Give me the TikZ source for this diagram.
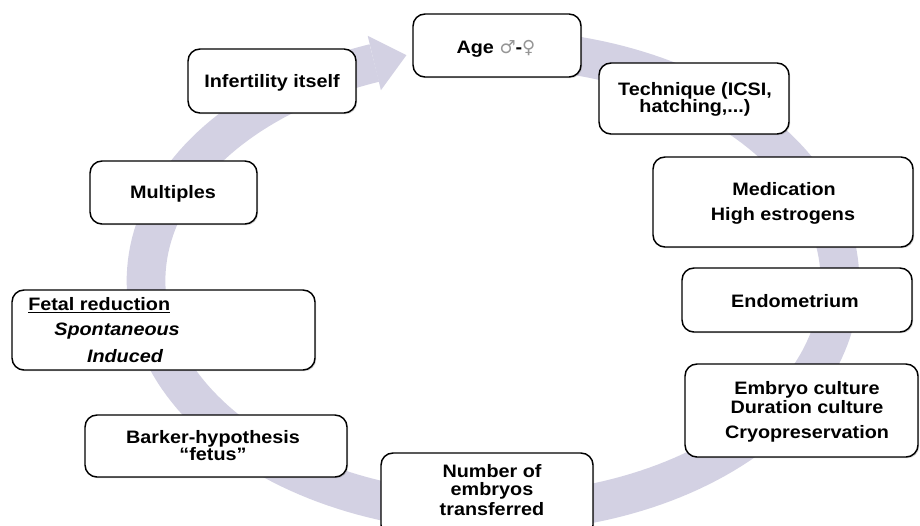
\documentclass[tikz,border=0pt]{standalone}
\usepackage{fontspec}
\setmainfont{Liberation Sans}[FakeStretch=1.1]
\newfontfamily\symfont{DejaVu Sans}
\usetikzlibrary{shadows}
\definecolor{bandcol}{RGB}{211,209,227}
\definecolor{symgray}{RGB}{150,150,150}
\begin{document}
\begin{tikzpicture}[x=0.75pt,y=-0.75pt,
  box/.style={draw=black, line width=1.1pt, rounded corners=9pt, fill=white, inner sep=0pt,
    drop shadow={shadow xshift=0.9pt, shadow yshift=-0.9pt, opacity=0.35}},
  txt/.style={font=\fontsize{13.5}{14}\selectfont\bfseries, inner sep=0pt, anchor=base},
  itxt/.style={txt, font=\fontsize{13.5}{14}\selectfont\bfseries\itshape}]
\fill[white] (0,0) rectangle (920,525);
\useasboundingbox (0,0) rectangle (920,525);
% circular band
\draw[bandcol, line width=29pt] plot[domain=-93:250, samples=200] ({493+347*cos(\x)},{281+232*sin(\x)});
\fill[bandcol] (367.7,35.8) -- (406.4,55.2) -- (380.9,90.2) -- cycle;
% boxes
\node[box, minimum width=126pt, minimum height=47.25pt] (age) at (497,45.5) {};
\node[box, minimum width=142.5pt, minimum height=53.25pt] (tech) at (694,98.5) {};
\node[box, minimum width=195pt, minimum height=67.5pt] (med) at (783,202) {};
\node[box, minimum width=172.5pt, minimum height=48pt] (endo) at (797,300) {};
\node[box, minimum width=174.75pt, minimum height=69.75pt] (embryo) at (801.5,410.5) {};
\node[box, minimum width=159pt, minimum height=63pt] (number) at (487,495) {};
\node[box, minimum width=196.5pt, minimum height=46.5pt] (barker) at (216,446) {};
\node[box, minimum width=227.25pt, minimum height=60pt] (fetal) at (163.5,330) {};
\node[box, minimum width=125.25pt, minimum height=47.25pt] (mult) at (173.5,192.5) {};
\node[box, minimum width=126pt, minimum height=48pt] (infert) at (272,81) {};
% texts
\node[txt] (agetxt) at (496,53) {Age {\symfont\mdseries\color{symgray}♂}-{\symfont\mdseries\color{symgray}♀}};
\node[txt] (tech1) at (695,95) {Technique (ICSI,};
\node[txt] (tech2) at (695,112) {hatching,...)};
\node[txt] (med1) at (784,195) {Medication};
\node[txt] (med2) at (783,220) {High estrogens};
\node[txt] (endotxt) at (795,307) {Endometrium};
\node[txt] (emb1) at (807,394) {Embryo culture};
\node[txt] (emb2) at (807,413) {Duration culture};
\node[txt] (emb3) at (807,438) {Cryopreservation};
\node[txt] (num1) at (492,477) {Number of};
\node[txt] (num2) at (492,495) {embryos};
\node[txt] (num3) at (492,515) {transferred};
\node[txt] (bar1) at (213,443) {Barker-hypothesis};
\node[txt] (bar2) at (213,460) {“fetus”};
\node[txt, anchor=base west] (fet1) at (28,310) {\underline{Fetal reduction}};
\node[itxt] (fet2) at (117,335) {Spontaneous};
\node[itxt] (fet3) at (125,362) {Induced};
\node[txt] (multtxt) at (173,198) {Multiples};
\node[txt] (inftxt) at (272,87) {Infertility itself};
\end{tikzpicture}
\end{document}
